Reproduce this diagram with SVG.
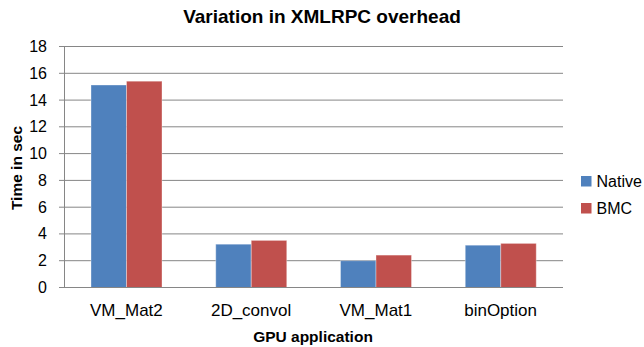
<svg xmlns="http://www.w3.org/2000/svg" width="644" height="347" viewBox="0 0 644 347">
  <style>
    .grid { stroke: #868686; stroke-width: 1; fill: none; }
    .native { fill: #4F81BD; stroke: #ffffff; stroke-opacity: 0.35; stroke-width: 1; }
    .bmc { fill: #C0504D; stroke: #ffffff; stroke-opacity: 0.35; stroke-width: 1; }
    .tick { font-family: "Liberation Sans", Arial, sans-serif; font-size: 16px; fill: #000; text-anchor: end; }
    .cat { font-family: "Liberation Sans", Arial, sans-serif; font-size: 17px; fill: #000; text-anchor: middle; }
    .axis-title { font-family: "Liberation Sans", Arial, sans-serif; font-size: 15.5px; font-weight: bold; fill: #000; text-anchor: middle; }
    .title { font-family: "Liberation Sans", Arial, sans-serif; font-size: 19px; font-weight: bold; fill: #000; text-anchor: middle; }
    .legend { font-family: "Liberation Sans", Arial, sans-serif; font-size: 16px; fill: #000; }
  </style>

  <rect x="0" y="0" width="644" height="347" fill="#ffffff"/>

  <!-- Chart title -->
  <text class="title" x="322" y="23">Variation in XMLRPC overhead</text>

  <!-- Horizontal gridlines (2..18) -->
  <g id="gridlines" class="grid">
    <line x1="64" y1="46.5" x2="563" y2="46.5"/>
    <line x1="64" y1="73.3" x2="563" y2="73.3"/>
    <line x1="64" y1="100.1" x2="563" y2="100.1"/>
    <line x1="64" y1="126.8" x2="563" y2="126.8"/>
    <line x1="64" y1="153.6" x2="563" y2="153.6"/>
    <line x1="64" y1="180.4" x2="563" y2="180.4"/>
    <line x1="64" y1="207.2" x2="563" y2="207.2"/>
    <line x1="64" y1="233.9" x2="563" y2="233.9"/>
    <line x1="64" y1="260.7" x2="563" y2="260.7"/>
  </g>

  <!-- Bars -->
  <g id="series-native">
    <rect class="native" x="91" y="85" width="35.5" height="202.5"/>
    <rect class="native" x="215.75" y="244.2" width="35.5" height="43.3"/>
    <rect class="native" x="340.5" y="260.7" width="35.5" height="26.8"/>
    <rect class="native" x="465.25" y="245.2" width="35.5" height="42.3"/>
  </g>
  <g id="series-bmc">
    <rect class="bmc" x="126.5" y="81.2" width="35.5" height="206.3"/>
    <rect class="bmc" x="251.25" y="240.4" width="35.5" height="47.1"/>
    <rect class="bmc" x="376" y="255.1" width="35.5" height="32.4"/>
    <rect class="bmc" x="500.75" y="243.4" width="35.5" height="44.1"/>
  </g>

  <!-- Axes and tick marks -->
  <g id="axes" class="grid">
    <line x1="64.5" y1="46.5" x2="64.5" y2="287.5"/>
    <line x1="59" y1="287.5" x2="563" y2="287.5"/>
    <line x1="59" y1="46.5" x2="64" y2="46.5"/>
    <line x1="59" y1="73.3" x2="64" y2="73.3"/>
    <line x1="59" y1="100.1" x2="64" y2="100.1"/>
    <line x1="59" y1="126.8" x2="64" y2="126.8"/>
    <line x1="59" y1="153.6" x2="64" y2="153.6"/>
    <line x1="59" y1="180.4" x2="64" y2="180.4"/>
    <line x1="59" y1="207.2" x2="64" y2="207.2"/>
    <line x1="59" y1="233.9" x2="64" y2="233.9"/>
    <line x1="59" y1="260.7" x2="64" y2="260.7"/>
  </g>

  <!-- Y-axis labels -->
  <g id="y-labels">
    <text class="tick" x="47" y="52">18</text>
    <text class="tick" x="47" y="78.8">16</text>
    <text class="tick" x="47" y="105.6">14</text>
    <text class="tick" x="47" y="132.3">12</text>
    <text class="tick" x="47" y="159.1">10</text>
    <text class="tick" x="47" y="185.9">8</text>
    <text class="tick" x="47" y="212.7">6</text>
    <text class="tick" x="47" y="239.4">4</text>
    <text class="tick" x="47" y="266.2">2</text>
    <text class="tick" x="47" y="293">0</text>
  </g>

  <!-- Category labels -->
  <g id="x-labels">
    <text class="cat" x="126.4" y="316">VM_Mat2</text>
    <text class="cat" x="251.1" y="316">2D_convol</text>
    <text class="cat" x="375.9" y="316">VM_Mat1</text>
    <text class="cat" x="500.6" y="316">binOption</text>
  </g>

  <!-- Axis titles -->
  <text class="axis-title" x="313" y="341.5">GPU application</text>
  <text class="axis-title" transform="translate(21.5,168) rotate(-90)">Time in sec</text>

  <!-- Legend -->
  <g id="legend">
    <g id="legend-native">
      <rect x="581" y="176" width="10.5" height="10.5" fill="#4F81BD"/>
      <text class="legend" x="596.5" y="187">Native</text>
    </g>
    <g id="legend-bmc">
      <rect x="581" y="203" width="10.5" height="10.5" fill="#C0504D"/>
      <text class="legend" x="596.5" y="214">BMC</text>
    </g>
  </g>
</svg>
